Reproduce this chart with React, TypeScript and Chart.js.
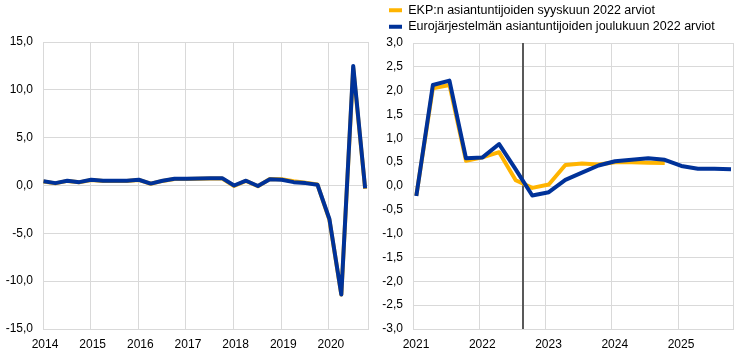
import React, { useEffect, useRef } from "react";
import { Chart, registerables } from "chart.js";

Chart.register(...registerables);

// ---------- DATA ----------
const seriesLabels = [
  "EKP:n asiantuntijoiden syyskuun 2022 arviot",
  "Eurojärjestelmän asiantuntijoiden joulukuun 2022 arviot",
];

const leftQuarters = [
  "2014Q1", "2014Q2", "2014Q3", "2014Q4",
  "2015Q1", "2015Q2", "2015Q3", "2015Q4",
  "2016Q1", "2016Q2", "2016Q3", "2016Q4",
  "2017Q1", "2017Q2", "2017Q3", "2017Q4",
  "2018Q1", "2018Q2", "2018Q3", "2018Q4",
  "2019Q1", "2019Q2", "2019Q3", "2019Q4",
  "2020Q1", "2020Q2", "2020Q3", "2020Q4",
];
const leftSeptember = [
  0.42, 0.22, 0.48, 0.33, 0.58, 0.48, 0.48, 0.48,
  0.58, 0.18, 0.48, 0.68, 0.68, 0.71, 0.72, 0.72,
  -0.05, 0.48, -0.08, 0.68, 0.66, 0.45, 0.3, 0.1,
  -3.6, -11.4, 12.3, -0.35,
];
const leftDecember = [
  0.45, 0.25, 0.5, 0.35, 0.6, 0.5, 0.5, 0.5,
  0.6, 0.2, 0.5, 0.7, 0.7, 0.73, 0.77, 0.77,
  0.0, 0.5, -0.05, 0.65, 0.6, 0.35, 0.25, 0.08,
  -3.5, -11.4, 12.5, -0.3,
];

const rightQuarters = [
  "2021Q1", "2021Q2", "2021Q3", "2021Q4",
  "2022Q1", "2022Q2", "2022Q3", "2022Q4",
  "2023Q1", "2023Q2", "2023Q3", "2023Q4",
  "2024Q1", "2024Q2", "2024Q3", "2024Q4",
  "2025Q1", "2025Q2", "2025Q3", "2025Q4",
];
const rightSeptember = [
  -0.2, 2.05, 2.12, 0.53, 0.6, 0.71, 0.12, -0.04,
  0.03, 0.44, 0.47, 0.45, 0.5, 0.5, 0.49, 0.48,
];
const rightDecember = [
  -0.21, 2.12, 2.21, 0.58, 0.6, 0.88, 0.35, -0.2,
  -0.13, 0.13, 0.28, 0.43, 0.52, 0.55, 0.58, 0.55,
  0.42, 0.36, 0.36, 0.35,
];

const leftYearTicks = [2014, 2015, 2016, 2017, 2018, 2019, 2020];
const rightYearTicks = [2021, 2022, 2023, 2024, 2025];
const leftValueTicks = [-15, -10, -5, 0, 5, 10, 15];
const rightValueTicks = [-3, -2.5, -2, -1.5, -1, -0.5, 0, 0.5, 1, 1.5, 2, 2.5, 3];
const projectionStart = 2022.66;

// ---------- STYLE ----------
const YELLOW = "#FFB400";
const BLUE = "#003299";
const GRID = "#d9d9d9";
const FONT = { family: "'Liberation Sans', Arial, sans-serif", size: 12 };
const LEGEND_FONT = { family: "'Liberation Sans', Arial, sans-serif", size: 12.5 };

function quarterToX(q: string, offset: number): number {
  const year = parseInt(q.slice(0, 4), 10);
  const qi = parseInt(q.slice(5), 10);
  return year + (qi - 1) * 0.25 + offset;
}

function toPoints(quarters: string[], values: number[], offset: number) {
  return values.map((v, i) => ({ x: quarterToX(quarters[i], offset), y: v }));
}

const fmtComma = (v: number) => v.toFixed(1).replace(".", ",");

function lineDataset(label: string, data: any[], color: string, order: number) {
  return {
    label,
    data,
    borderColor: color,
    backgroundColor: color,
    borderWidth: 4,
    borderJoinStyle: "round" as const,
    pointRadius: 0,
    pointHoverRadius: 0,
    tension: 0,
    order,
  };
}

function buildOptions(cfg: {
  xMin: number; xMax: number; yearTicks: number[]; valueTicks: number[];
  yWidth: number; padding: any; legend: boolean;
}) {
  return {
    responsive: false,
    animation: false as const,
    layout: { padding: cfg.padding },
    plugins: {
      tooltip: { enabled: false },
      legend: cfg.legend
        ? {
            display: true,
            position: "top" as const,
            align: "start" as const,
            labels: {
              font: LEGEND_FONT,
              color: "#000",
              boxWidth: 13,
              boxHeight: 4,
              padding: 4,
              generateLabels: () => [
                { text: seriesLabels[0], fillStyle: YELLOW, strokeStyle: YELLOW, lineWidth: 0, hidden: false, datasetIndex: 1, fontColor: "#000" },
                { text: seriesLabels[1], fillStyle: BLUE, strokeStyle: BLUE, lineWidth: 0, hidden: false, datasetIndex: 0, fontColor: "#000" },
              ],
            },
          }
        : { display: false },
    },
    scales: {
      x: {
        type: "linear" as const,
        min: cfg.xMin,
        max: cfg.xMax,
        afterBuildTicks: (scale: any) => {
          scale.ticks = [...cfg.yearTicks, cfg.xMax].map((v) => ({ value: v }));
        },
        afterFit: (scale: any) => { scale.height = 26; },
        grid: { color: GRID, lineWidth: 1, drawTicks: false },
        border: { color: GRID, width: 1 },
        ticks: {
          font: FONT,
          color: "#000",
          padding: 8,
          autoSkip: false,
          maxRotation: 0,
          labelOffset: 2,
          callback: (v: any) => (cfg.yearTicks.includes(v) ? String(v) : ""),
        },
      },
      y: {
        type: "linear" as const,
        min: cfg.valueTicks[0],
        max: cfg.valueTicks[cfg.valueTicks.length - 1],
        afterBuildTicks: (scale: any) => {
          scale.ticks = cfg.valueTicks.map((v) => ({ value: v }));
        },
        afterFit: (scale: any) => { scale.width = cfg.yWidth; },
        grid: { color: GRID, lineWidth: 1, drawTicks: false },
        border: { color: GRID, width: 1 },
        ticks: {
          font: FONT,
          color: "#000",
          padding: 10,
          callback: (v: any) => fmtComma(Number(v)),
        },
      },
    },
  };
}

const cutoffPlugin = {
  id: "cutoffLine",
  beforeDatasetsDraw(chart: any, _args: any, opts: any) {
    if (opts == null || opts.value == null) return;
    const { ctx, chartArea, scales } = chart;
    const x = Math.round(scales.x.getPixelForValue(opts.value));
    ctx.save();
    ctx.strokeStyle = "#595959";
    ctx.lineWidth = 2;
    ctx.beginPath();
    ctx.moveTo(x, chartArea.top);
    ctx.lineTo(x, chartArea.bottom);
    ctx.stroke();
    ctx.restore();
  },
};

// shifts the legend block to the right without moving the axes
const legendShiftPlugin = {
  id: "legendShift",
  afterLayout(chart: any, _args: any, opts: any) {
    const dx = (opts && opts.dx) || 0;
    if (chart.legend) {
      chart.legend.left += dx;
      chart.legend.right += dx;
    }
  },
};

export default function App() {
  const leftRef = useRef<HTMLCanvasElement | null>(null);
  const rightRef = useRef<HTMLCanvasElement | null>(null);

  useEffect(() => {
    const leftChart = new Chart(leftRef.current as HTMLCanvasElement, {
      type: "line",
      data: {
        datasets: [
          lineDataset(seriesLabels[1], toPoints(leftQuarters, leftDecember, 0.01), BLUE, 0),
          lineDataset(seriesLabels[0], toPoints(leftQuarters, leftSeptember, 0.01), YELLOW, 1),
        ],
      },
      options: buildOptions({
        xMin: 2014, xMax: 2020.82, yearTicks: leftYearTicks, valueTicks: leftValueTicks,
        yWidth: 43, padding: { top: 42, right: 5, left: 0, bottom: 0 }, legend: false,
      }) as any,
    });

    const rightOpts: any = buildOptions({
      xMin: 2021, xMax: 2025.83, yearTicks: rightYearTicks, valueTicks: rightValueTicks,
      yWidth: 37, padding: { top: 0, right: 8, left: 0, bottom: 0 }, legend: true,
    });
    rightOpts.plugins.cutoffLine = { value: projectionStart };
    rightOpts.plugins.legendShift = { dx: 9 };
    rightOpts.scales.x.ticks.labelOffset = 3;

    const rightChart = new Chart(rightRef.current as HTMLCanvasElement, {
      type: "line",
      data: {
        datasets: [
          lineDataset(seriesLabels[1], toPoints(rightQuarters, rightDecember, 0.05), BLUE, 0),
          lineDataset(seriesLabels[0], toPoints(rightQuarters, rightSeptember, 0.05), YELLOW, 1),
        ],
      },
      options: rightOpts,
      plugins: [cutoffPlugin, legendShiftPlugin],
    });

    return () => {
      leftChart.destroy();
      rightChart.destroy();
    };
  }, []);

  return (
    <div style={{ position: "absolute", left: 0, top: 0, width: 741, height: 355, display: "flex", background: "#fff" }}>
      <canvas ref={leftRef} width={376} height={355} style={{ width: 376, height: 355, display: "block" }} />
      <canvas ref={rightRef} width={365} height={355} style={{ width: 365, height: 355, display: "block" }} />
    </div>
  );
}
